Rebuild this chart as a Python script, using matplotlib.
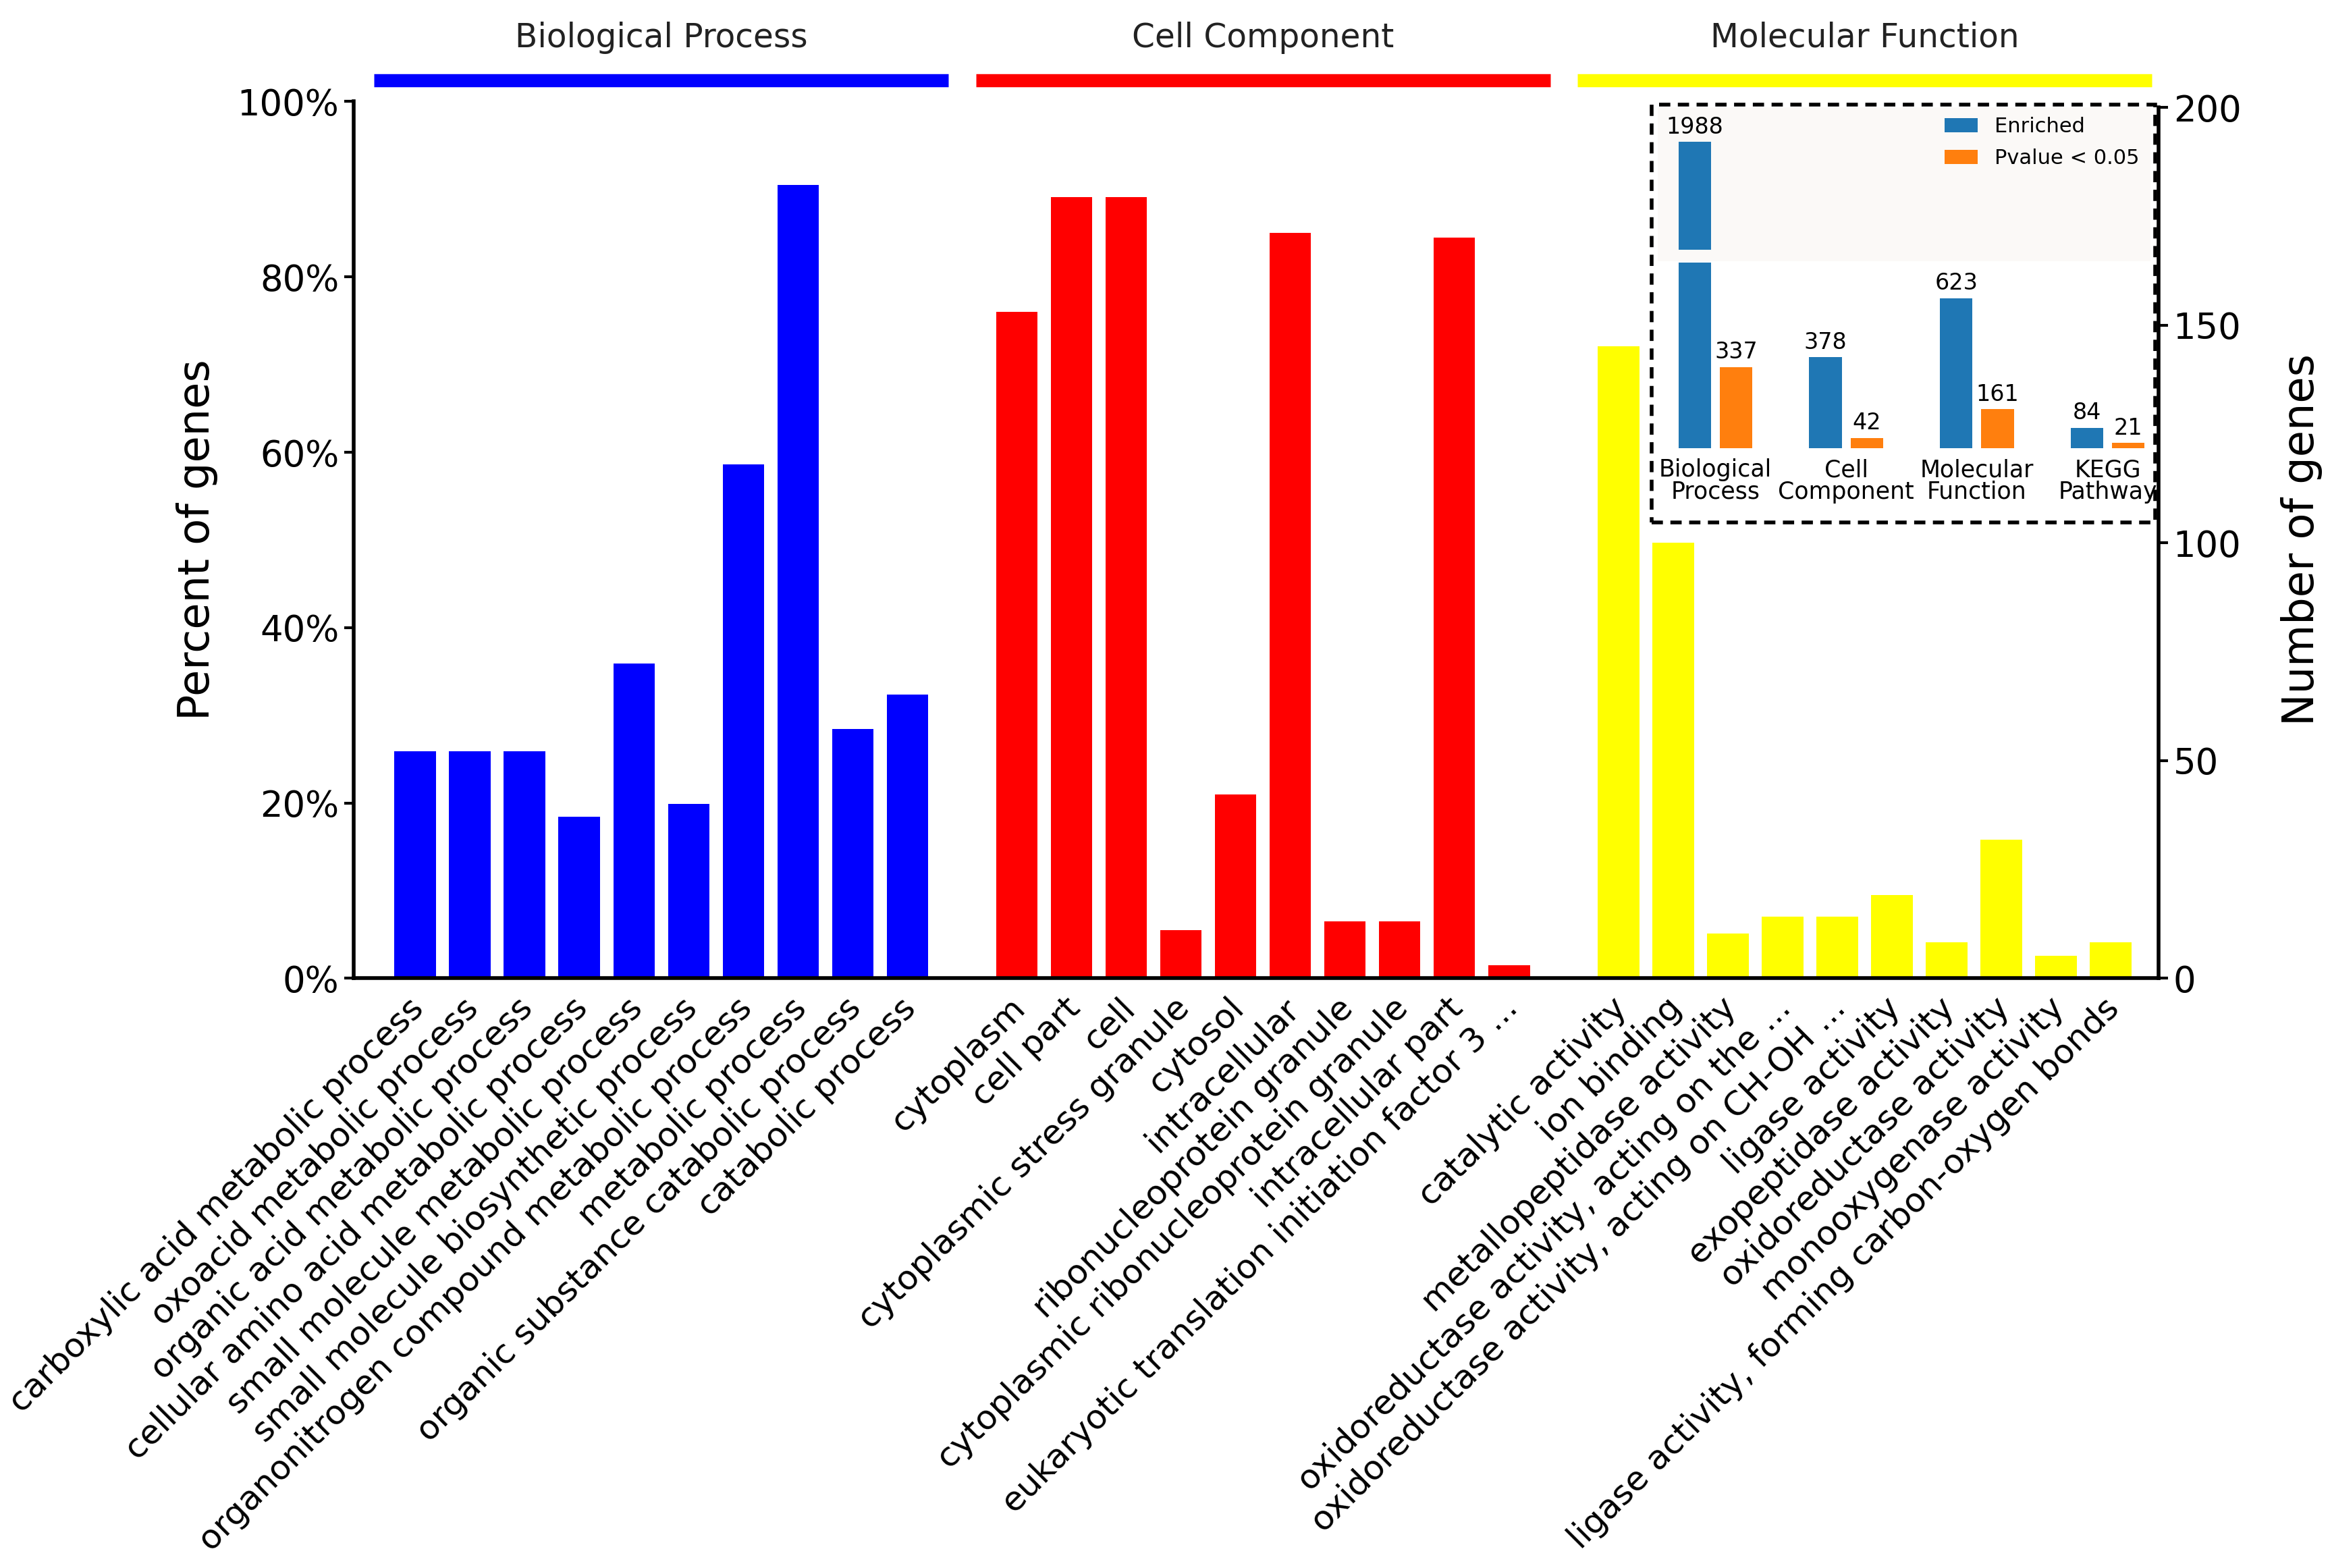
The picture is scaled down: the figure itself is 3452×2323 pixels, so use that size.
import matplotlib
matplotlib.use('Agg')
import matplotlib.pyplot as plt
import matplotlib.transforms as mtransforms
from matplotlib.patches import Rectangle
import numpy as np

plt.rcParams['font.family'] = ['DejaVu Sans']

# GO terms and percent of genes
bp_terms = ['carboxylic acid metabolic process', 'oxoacid metabolic process',
            'organic acid metabolic process', 'cellular amino acid metabolic process',
            'small molecule metabolic process', 'small molecule biosynthetic process',
            'organonitrogen compound metabolic process', 'metabolic process',
            'organic substance catabolic process', 'catabolic process']
bp_pct = [25.9, 25.9, 25.9, 18.4, 35.9, 19.9, 58.6, 90.5, 28.4, 32.4]

cc_terms = ['cytoplasm', 'cell part', 'cell', 'cytoplasmic stress granule', 'cytosol',
            'intracellular', 'ribonucleoprotein granule',
            'cytoplasmic ribonucleoprotein granule', 'intracellular part',
            'eukaryotic translation initiation factor 3 ...']
cc_pct = [76.0, 89.1, 89.1, 5.5, 21.0, 85.0, 6.5, 6.5, 84.5, 1.5]

mf_terms = ['catalytic activity', 'ion binding', 'metallopeptidase activity',
            'oxidoreductase activity, acting on the ...',
            'oxidoreductase activity, acting on CH-OH ...', 'ligase activity',
            'exopeptidase activity', 'oxidoreductase activity',
            'monooxygenase activity', 'ligase activity, forming carbon-oxygen bonds']
mf_pct = [72.1, 49.7, 5.1, 7.0, 7.0, 9.5, 4.1, 15.8, 2.6, 4.1]

groups = ['Biological Process', 'Cell Component', 'Molecular Function']
group_colors = ['#0000ff', '#ff0000', '#ffff00']

# inset data
inset_cats = ['Biological\nProcess', 'Cell\nComponent', 'Molecular\nFunction', 'KEGG\nPathway']
enriched = [1988, 378, 623, 84]
pval = [337, 42, 161, 21]

fig = plt.figure(figsize=(34.52, 23.23), dpi=100)
W, H = 1560.0, 1049.8  # layout measured on a 1560 px wide view


def fx(x):
    return x / W


def fy(y):
    return 1 - y / H


ax = fig.add_axes([fx(237), fy(655), fx(1445) - fx(237), fy(68) - fy(655)])

all_pct = [bp_pct, cc_pct, mf_pct]
all_terms = bp_terms + cc_terms + mf_terms
xs_all = []
trans = mtransforms.blended_transform_factory(ax.transData, ax.transAxes)
for g, (vals, col) in enumerate(zip(all_pct, group_colors)):
    xs = np.arange(len(vals)) + g * 11
    ax.bar(xs, vals, width=0.76, color=col, zorder=2)
    xs_all.extend(xs)
    # group header bar + title
    c = xs.mean()
    ax.plot([c - 5.25, c + 5.25], [1.024, 1.024], color=col, lw=14,
            solid_capstyle='butt', transform=trans, clip_on=False)
    ax.text(c, 1.073, groups[g], transform=trans, ha='center', va='center',
            fontsize=35, color='#222222')

ax.set_xlim(-1.12, 31.87)
ax.set_ylim(0, 100)
ax.set_xticks(xs_all)
ax.set_xticklabels([])
ax.tick_params(axis='x', length=0)
# rotated term labels, nudged a little left of the bar centre
lab_trans = trans + mtransforms.ScaledTranslation(-0.12, -0.2, fig.dpi_scale_trans)
for x, t in zip(xs_all, all_terms):
    ax.text(x, 0, t, transform=lab_trans, rotation=45, ha='right', va='top',
            rotation_mode='anchor', fontsize=36)
ax.set_yticks([0, 20, 40, 60, 80, 100])
ax.set_yticklabels(['0%', '20%', '40%', '60%', '80%', '100%'])
ax.tick_params(axis='y', labelsize=38, length=10, width=3, pad=6)
ax.spines['top'].set_visible(False)
ax.spines['right'].set_visible(False)
for s in ['left', 'bottom']:
    ax.spines[s].set_linewidth(4)
ax.set_ylabel('Percent of genes', fontsize=46)
ax.yaxis.set_label_coords(-0.0753, 0.5)

ax2 = ax.twinx()
ax2.set_ylim(0, 201.4)
ax2.set_yticks([0, 50, 100, 150, 200])
ax2.tick_params(axis='y', labelsize=38, length=10, width=3, pad=6)
for s in ['top', 'left', 'bottom']:
    ax2.spines[s].set_visible(False)
ax2.spines['right'].set_linewidth(4)
ax2.spines['right'].set_bounds(0, 200)
ax2.set_ylabel('Number of genes', fontsize=46)
ax2.yaxis.set_label_coords(1.068, 0.5)

# inset: broken bar chart
bg = '#fbf9f7'
fig.patches.append(Rectangle((fx(1110), fy(175)), fx(1440) - fx(1110), fy(72) - fy(175),
                             transform=fig.transFigure, facecolor=bg, edgecolor='none', zorder=3))
ins_lo = fig.add_axes([fx(1110), fy(300), fx(1440) - fx(1110), fy(176) - fy(300)], zorder=5)
ins_hi = fig.add_axes([fx(1110), fy(167), fx(1440) - fx(1110), fy(72) - fy(167)], zorder=5)
ins_lo.patch.set_alpha(0)
ins_hi.set_facecolor(bg)

xi = np.arange(len(enriched))
for a in (ins_lo, ins_hi):
    a.bar(xi - 0.158, enriched, width=0.25, color='#1f77b4', label='Enriched')
    a.bar(xi + 0.158, pval, width=0.25, color='#ff7f0e', label='Pvalue < 0.05')
    a.set_xlim(-0.44, 3.33)
    for s in a.spines.values():
        s.set_visible(False)
    a.set_yticks([])
ins_lo.set_ylim(0, 770)
ins_hi.set_ylim(1541, 2131)
ins_hi.set_xticks([])
ins_lo.set_xticks(xi)
ins_lo.set_xticklabels(inset_cats, fontsize=25, linespacing=0.95)
ins_lo.tick_params(axis='x', length=0, pad=11)

for i in range(len(enriched)):
    a = ins_hi if enriched[i] > 770 else ins_lo
    a.annotate(str(enriched[i]), (xi[i] - 0.158, enriched[i]), xytext=(0, 4),
               textcoords='offset points', ha='center', va='bottom', fontsize=24)
    ins_lo.annotate(str(pval[i]), (xi[i] + 0.158, pval[i]), xytext=(0, 4),
                    textcoords='offset points', ha='center', va='bottom', fontsize=24)

ins_hi.legend(loc='upper right', frameon=False, fontsize=22, handlelength=1.6,
              handleheight=0.7, borderaxespad=0.05, labelspacing=0.6,
              bbox_to_anchor=(0.995, 1.0))

# dashed frame around inset
fig.patches.append(Rectangle((fx(1106), fy(350)), fx(1443) - fx(1106), fy(70) - fy(350),
                             transform=fig.transFigure, fill=False, edgecolor='black',
                             lw=4, linestyle=(0, (3, 2)), zorder=6))

fig.savefig('out.png', dpi=100)
